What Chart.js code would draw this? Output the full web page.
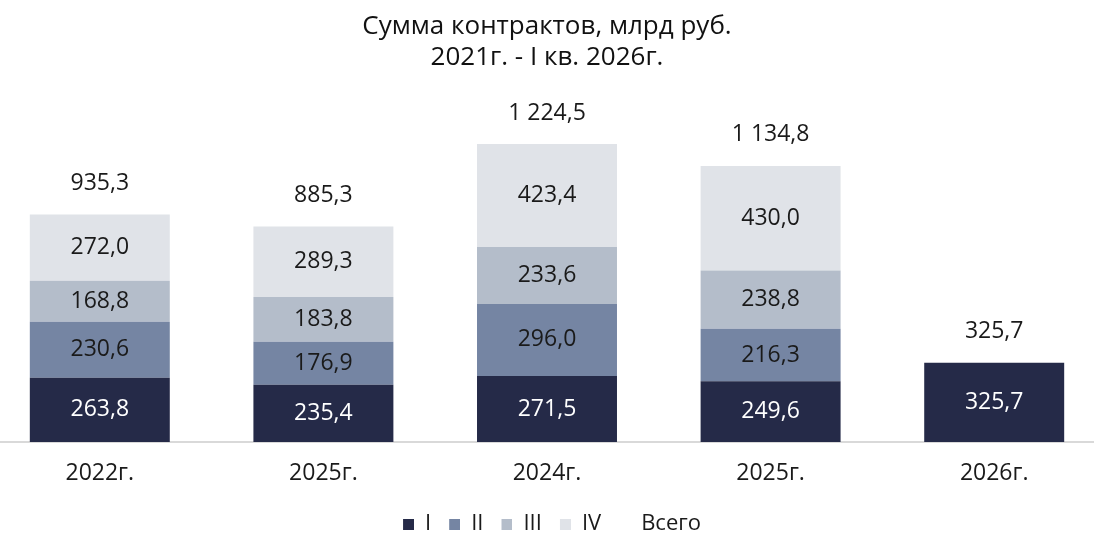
<!DOCTYPE html>
<html>
<head>
<meta charset="utf-8">
<script src="https://cdn.jsdelivr.net/npm/chart.js@4.4.1/dist/chart.umd.min.js"></script>
<style>
  html, body { margin: 0; padding: 0; background: #fff; overflow: hidden; }
  #wrap { position: absolute; left: -12px; top: 0; width: 1118px; height: 552px; }
</style>
</head>
<body>
<div id="wrap"><canvas id="c"></canvas></div>
<script>
const categories = ['2022г.', '2025г.', '2024г.', '2025г.', '2026г.'];
const q1 = [263.8, 235.4, 271.5, 249.6, 325.7];
const q2 = [230.6, 176.9, 296.0, 216.3, null];
const q3 = [168.8, 183.8, 233.6, 238.8, null];
const q4 = [272.0, 289.3, 423.4, 430.0, null];
const totals = [935.3, 885.3, 1224.5, 1134.8, 325.7];
const seriesNames = ['I', 'II', 'III', 'IV', 'Всего'];
const titleLines = ['Сумма контрактов, млрд руб.', '2021г. - I кв. 2026г.'];

const FONT = '"Open Sans", "Noto Sans", sans-serif';
const colors = ['#252a48', '#7585a3', '#b4bdca', '#e0e3e8'];
const labelColors = ['#ffffff', '#1a1a1a', '#1a1a1a', '#1a1a1a'];

// legend marker: small square at the right side of a wider transparent slot
const MARK = 11, LEAD = 10;
function marker(color) {
  const cv = document.createElement('canvas');
  cv.width = MARK + LEAD; cv.height = MARK;
  const g = cv.getContext('2d');
  if (color) { g.fillStyle = color; g.fillRect(LEAD, 0, MARK, MARK); }
  return cv;
}
const markers = [...colors.map(c => marker(c)), marker(null)];

function fmt(v) {
  const s = v.toFixed(1).split('.');
  const int = s[0].replace(/\B(?=(\d{3})+(?!\d))/g, ' ');
  return int + ',' + s[1];
}

const labelPlugin = {
  id: 'valueLabels',
  afterDatasetsDraw(chart) {
    const ctx = chart.ctx;
    ctx.save();
    ctx.font = '23px ' + FONT;
    ctx.textAlign = 'center';
    ctx.textBaseline = 'middle';
    chart.data.datasets.forEach((ds, di) => {
      const meta = chart.getDatasetMeta(di);
      meta.data.forEach((el, i) => {
        const v = ds.data[i];
        if (v == null) return;
        if (ds.type === 'line') {
          ctx.fillStyle = '#1a1a1a';
          ctx.fillText(fmt(v), el.x, el.y - 31);
        } else {
          ctx.fillStyle = labelColors[di];
          ctx.fillText(fmt(v), el.x, (el.y + el.base) / 2);
        }
      });
    });
    ctx.restore();
  }
};

const barData = [q1, q2, q3, q4];
const datasets = barData.map((d, i) => ({
  type: 'bar',
  label: seriesNames[i],
  data: d,
  backgroundColor: colors[i],
  borderWidth: 0,
  stack: 's',
  categoryPercentage: 1.0,
  barPercentage: 0.626
}));
datasets.push({
  type: 'line',
  label: seriesNames[4],
  data: totals,
  stack: 'total',
  showLine: false,
  pointRadius: 0,
  backgroundColor: 'rgba(0,0,0,0)',
  borderColor: 'rgba(0,0,0,0)',
  borderWidth: 0
});

new Chart(document.getElementById('c'), {
  data: { labels: categories, datasets },
  plugins: [labelPlugin],
  options: {
    responsive: true,
    maintainAspectRatio: false,
    animation: false,
    layout: { padding: { left: 0, right: 0, top: 0, bottom: 7 } },
    plugins: {
      tooltip: { enabled: false },
      title: {
        display: true,
        text: titleLines,
        color: '#111111',
        font: { family: FONT, size: 26, weight: 'normal', lineHeight: 1.2 },
        padding: { top: 11, bottom: 28 }
      },
      legend: {
        position: 'bottom',
        labels: {
          color: '#1a1a1a',
          font: { family: FONT, size: 22 },
          usePointStyle: true,
          pointStyleWidth: MARK + LEAD,
          boxHeight: MARK,
          padding: 8,
          generateLabels(chart) {
            const items = Chart.defaults.plugins.legend.labels.generateLabels(chart);
            items.forEach((it) => {
              it.pointStyle = markers[it.datasetIndex];
              it.fontColor = '#1a1a1a';
            });
            return items;
          }
        }
      }
    },
    scales: {
      x: {
        stacked: true,
        grid: { display: false, drawTicks: false },
        border: { display: true, color: '#d9d9d9', width: 2 },
        ticks: { color: '#1a1a1a', font: { family: FONT, size: 23, lineHeight: 1.0 }, padding: 20 }
      },
      y: {
        stacked: true,
        display: false,
        min: 0,
        max: 1400
      }
    }
  }
});
</script>
</body>
</html>
